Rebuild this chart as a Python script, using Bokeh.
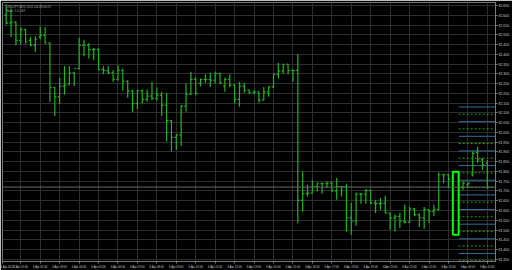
import numpy as np
from bokeh.plotting import figure
from bokeh.models import (ColumnDataSource, FixedTicker, Span, Label, Range1d,
                          PrintfTickFormatter)
from bokeh.embed import file_html
from bokeh.resources import INLINE

# ---------------- data (USDJPY, M15) ----------------
bar_index = list(range(0, 92)) + list(range(94, 100))

bar_open = [82.599, 82.560, 82.565, 82.471, 82.528, 82.471, 82.446, 82.488, 82.497, 82.458,
            82.230, 82.182, 82.237, 82.247, 82.305, 82.327, 82.446, 82.446, 82.424, 82.425,
            82.322, 82.315, 82.305, 82.271, 82.318, 82.262, 82.213, 82.148, 82.213, 82.169,
            82.186, 82.174, 82.191, 82.140, 82.060, 81.975, 81.987, 82.135, 82.196, 82.272,
            82.251, 82.271, 82.271, 82.267, 82.301, 82.237, 82.271, 82.242, 82.169, 82.237,
            82.216, 82.203, 82.208, 82.165, 82.208, 82.233, 82.298, 82.315, 82.349, 82.318,
            82.318, 81.652, 81.686, 81.689, 81.723, 81.737, 81.737, 81.740, 81.701, 81.723,
            81.723, 81.562, 81.545, 81.684, 81.684, 81.703, 81.638, 81.635, 81.638, 81.587,
            81.562, 81.570, 81.545, 81.539, 81.608, 81.579, 81.562, 81.604, 81.595, 81.604,
            81.783, 81.783,
            81.720, 81.732, 81.783, 81.896, 81.859, 81.842]

bar_high = [82.655, 82.633, 82.568, 82.538, 82.528, 82.488, 82.492, 82.543, 82.539, 82.460,
            82.233, 82.278, 82.340, 82.340, 82.310, 82.485, 82.475, 82.458, 82.432, 82.429,
            82.339, 82.340, 82.318, 82.344, 82.327, 82.267, 82.216, 82.220, 82.220, 82.220,
            82.259, 82.230, 82.208, 82.200, 82.063, 81.992, 82.140, 82.251, 82.310, 82.281,
            82.276, 82.296, 82.305, 82.310, 82.305, 82.281, 82.296, 82.247, 82.259, 82.254,
            82.220, 82.216, 82.208, 82.233, 82.237, 82.301, 82.356, 82.352, 82.352, 82.318,
            82.400, 81.799, 81.732, 81.754, 81.743, 81.743, 81.749, 81.749, 81.766, 81.726,
            81.737, 81.638, 81.692, 81.689, 81.710, 81.706, 81.655, 81.664, 81.676, 81.587,
            81.579, 81.587, 81.630, 81.618, 81.613, 81.584, 81.618, 81.604, 81.630, 81.794,
            81.788, 81.788,
            81.749, 81.743, 81.902, 81.927, 81.869, 81.859]

bar_low = [82.553, 82.488, 82.446, 82.451, 82.455, 82.441, 82.412, 82.477, 82.455, 82.157,
           82.084, 82.145, 82.194, 82.242, 82.238, 82.323, 82.390, 82.378, 82.369, 82.322,
           82.298, 82.298, 82.259, 82.264, 82.213, 82.177, 82.106, 82.118, 82.148, 82.157,
           82.165, 82.162, 82.084, 81.953, 81.902, 81.910, 81.932, 82.106, 82.191, 82.191,
           82.237, 82.254, 82.233, 82.251, 82.247, 82.208, 82.233, 82.148, 82.131, 82.203,
           82.196, 82.196, 82.152, 82.165, 82.182, 82.228, 82.276, 82.301, 82.298, 82.259,
           81.536, 81.595, 81.672, 81.689, 81.697, 81.686, 81.715, 81.697, 81.655, 81.672,
           81.493, 81.476, 81.522, 81.635, 81.635, 81.635, 81.587, 81.604, 81.587, 81.502,
           81.493, 81.511, 81.533, 81.536, 81.570, 81.516, 81.506, 81.536, 81.570, 81.601,
           81.740, 81.715,
           81.706, 81.715, 81.774, 81.844, 81.808, 81.710]

bar_close = [82.560, 82.565, 82.471, 82.528, 82.463, 82.446, 82.477, 82.497, 82.458, 82.230,
             82.182, 82.237, 82.242, 82.305, 82.327, 82.446, 82.449, 82.424, 82.425, 82.322,
             82.318, 82.305, 82.271, 82.318, 82.262, 82.213, 82.148, 82.213, 82.169, 82.186,
             82.174, 82.191, 82.140, 82.060, 81.975, 81.987, 82.135, 82.196, 82.272, 82.200,
             82.271, 82.271, 82.267, 82.301, 82.254, 82.271, 82.242, 82.169, 82.237, 82.216,
             82.203, 82.208, 82.165, 82.208, 82.233, 82.298, 82.315, 82.349, 82.318, 82.318,
             81.652, 81.686, 81.689, 81.723, 81.737, 81.737, 81.740, 81.701, 81.723, 81.723,
             81.562, 81.545, 81.684, 81.684, 81.703, 81.638, 81.635, 81.638, 81.587, 81.562,
             81.570, 81.545, 81.539, 81.608, 81.579, 81.562, 81.604, 81.595, 81.604, 81.783,
             81.783, 81.761,
             81.740, 81.740, 81.893, 81.859, 81.834, 81.720]

# highlighted (hollow) bar spanning two bar slots
highlight_bars = [92, 93]
highlight_high = 81.799
highlight_low = 81.476

# horizontal level lines drawn at the right side
levels = [82.130, 82.093, 82.055, 82.018, 81.980, 81.943, 81.905, 81.868, 81.830, 81.793,
          81.755, 81.718, 81.680, 81.643, 81.605, 81.568, 81.530, 81.493, 81.455, 81.418,
          81.380, 81.343]

current_price = 81.720

y_ticks = [81.35, 81.40, 81.45, 81.50, 81.55, 81.60, 81.65, 81.70, 81.75, 81.80,
           81.85, 81.90, 81.95, 82.00, 82.05, 82.10, 82.15, 82.20, 82.25, 82.30,
           82.35, 82.40, 82.45, 82.50, 82.55, 82.60, 82.65]

x_tick_bars = [3, 7, 11, 15, 19, 23, 27, 31, 35, 39, 43, 47, 51, 55, 59, 63, 67, 71, 75,
               79, 83, 87, 91, 95, 99]
x_tick_labels = ["6 Apr 01:00", "6 Apr 02:00", "6 Apr 03:00", "6 Apr 04:00", "6 Apr 05:00",
                 "6 Apr 06:00", "6 Apr 07:00", "6 Apr 08:00", "6 Apr 09:00", "6 Apr 10:00",
                 "6 Apr 11:00", "6 Apr 12:00", "6 Apr 13:00", "6 Apr 14:00", "6 Apr 15:00",
                 "6 Apr 16:00", "6 Apr 17:00", "6 Apr 18:00", "6 Apr 19:00", "6 Apr 20:00",
                 "6 Apr 21:00", "6 Apr 22:00", "6 Apr 23:00", "9 Apr 00:00", "9 Apr 01:00"]
first_label = "6 Apr 2012"

title_line1 = "USDJPY,M15  2012.04.09 00:57"
title_line2 = "Bars: 1  0.167"

# ---------------- figure ----------------
X0, X1 = -0.76, 100.68
Y0, Y1 = 81.3388, 82.6653

p = figure(width=512, height=270, x_range=Range1d(X0, X1), y_range=Range1d(Y0, Y1),
           output_backend="svg", toolbar_location=None, y_axis_location="right",
           min_border_left=2, min_border_top=2, min_border_right=15, min_border_bottom=8,
           background_fill_color="black", border_fill_color="black",
           outline_line_color="#7a7a7a", outline_line_width=1)

axis_col = "#7a7a7a"
lab_col = "#c8c8c8"

# right price axis
ya = p.yaxis[0]
ya.ticker = FixedTicker(ticks=y_ticks)
ya.formatter = PrintfTickFormatter(format="%.3f")
ya.major_label_text_font_size = "3.5px"
ya.major_label_text_font = "Liberation Sans"
ya.major_label_text_color = lab_col
ya.axis_line_color = axis_col
ya.major_tick_line_color = axis_col
ya.major_tick_out = 2
ya.major_tick_in = 0
ya.minor_tick_line_color = None
ya.major_label_standoff = 1

# bottom time axis
xa = p.xaxis[0]
first_pos = X0 + 0.06
tick_pos = [first_pos] + [float(b) for b in x_tick_bars]
xa.ticker = FixedTicker(ticks=tick_pos)
overrides = {first_pos: first_label}
for b, t in zip(x_tick_bars, x_tick_labels):
    overrides[float(b)] = t
xa.major_label_overrides = overrides
xa.major_label_text_font_size = "2.8px"
xa.major_label_text_font = "Liberation Sans"
xa.major_label_text_color = lab_col
xa.major_label_text_align = "left"
xa.axis_line_color = axis_col
xa.major_tick_line_color = axis_col
xa.major_tick_out = 2
xa.major_tick_in = 0
xa.minor_tick_line_color = None
xa.major_label_standoff = 1

# grid
p.xgrid.ticker = FixedTicker(ticks=[float(b) for b in x_tick_bars])
p.ygrid.ticker = FixedTicker(ticks=y_ticks)
p.xgrid.grid_line_color = "#2e2e2e"
p.ygrid.grid_line_color = "#2e2e2e"
p.xgrid.grid_line_width = 1
p.ygrid.grid_line_width = 1

# current price line
p.add_layout(Span(location=current_price, dimension="width", line_color="#6a6a6a", line_width=1))

# level lines on the right
lv_start = highlight_bars[-1] + 0.1
blue_lv = levels[0::2]
green_lv = levels[1::2]
p.segment(x0=[lv_start] * len(blue_lv), x1=[X1] * len(blue_lv), y0=blue_lv, y1=blue_lv,
          line_color="#2f6f9f", line_width=1)
p.segment(x0=[lv_start] * len(green_lv), x1=[X1] * len(green_lv), y0=green_lv, y1=green_lv,
          line_color="#1fa01f", line_width=1, line_dash="2 2")

# OHLC bars
xi = np.array(bar_index, dtype=float)
src = ColumnDataSource(dict(x=xi, xl=xi - 0.36, xr=xi + 0.36,
                            o=bar_open, h=bar_high, l=bar_low, c=bar_close))
bar_col = "#22b422"
p.segment(x0="x", y0="h", x1="x", y1="l", source=src, line_color=bar_col, line_width=1.2)
p.segment(x0="xl", y0="o", x1="x", y1="o", source=src, line_color=bar_col, line_width=1.2)
p.segment(x0="x", y0="c", x1="xr", y1="c", source=src, line_color=bar_col, line_width=1.2)

# highlighted hollow bar
p.quad(left=[highlight_bars[0] - 0.1], right=[highlight_bars[-1] + 0.1],
       top=[highlight_high], bottom=[highlight_low],
       fill_alpha=0, line_color="#00ff00", line_width=2)

# current price tag on the axis
p.add_layout(Label(x=X1, y=current_price, text="%.3f" % current_price, x_offset=2,
                   text_font_size="3.5px", text_font="Liberation Sans", text_color="#f0f0f0",
                   text_baseline="middle", background_fill_color="#7d7d7d"))

# top-left info text
p.add_layout(Label(x=X0 + 0.8, y=Y1 - 0.02, text=title_line1, text_font_size="3.2px",
                   text_font="Liberation Sans", text_color="#b0b0b0", text_baseline="middle"))
p.add_layout(Label(x=X0 + 0.8, y=Y1 - 0.045, text=title_line2, text_font_size="3.2px",
                   text_font="Liberation Sans", text_color="#b0b0b0", text_baseline="middle"))

open("out.html", "w").write(file_html(p, INLINE))
